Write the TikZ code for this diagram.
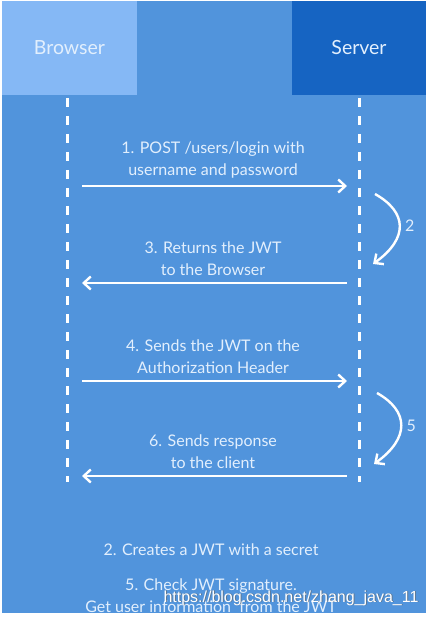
\documentclass[tikz,border=0pt]{standalone}
\usepackage{fontspec}
\setmainfont{Lato}
\newfontfamily\wmfont{Liberation Sans}
\usetikzlibrary{arrows.meta,positioning}
\definecolor{jwtBg}{RGB}{81,148,220}
\definecolor{jwtLight}{RGB}{133,184,245}
\definecolor{jwtDark}{RGB}{22,100,194}
\definecolor{jwtText}{RGB}{226,239,253}

\begin{document}
\begin{tikzpicture}[x=1pt, y=-1pt,
  hdrbox/.style={minimum height=94pt, inner sep=0pt, text=jwtText,
                 font=\fontsize{19.5}{22}\selectfont},
  lifeline/.style={white, line width=3pt, dash pattern=on 9pt off 9pt},
  arr/.style={white, line width=2.4pt, -{Straight Barb[length=7pt,width=13pt]}},
  tosrv/.style={arr, shorten <=15pt, shorten >=12pt},
  tobrw/.style={arr, shorten <=12pt, shorten >=15pt},
  lbl/.style={text=jwtText, font=\fontsize{16}{22}\selectfont, align=center},
]

\useasboundingbox (0,0) rectangle (428,617);
\fill[white] (0,0) rectangle (428,617);

\begin{scope}
\clip (2,1) rectangle (426,613);
\fill[jwtBg] (2,1) rectangle (426,613);

%% actors
\node[hdrbox, fill=jwtLight, minimum width=135pt] (browser) at (69.5,48) {Browser};
\node[hdrbox, fill=jwtDark, minimum width=134pt] (server) at (359,48) {Server};

%% lifelines
\coordinate (bTop) at (67,98);
\coordinate (bEnd) at (67,482);
\coordinate (sTop) at (359,98);
\coordinate (sEnd) at (359,482);
\draw[lifeline] (bTop) -- (bEnd);
\draw[lifeline] (sTop) -- (sEnd);

% message anchors on both lifelines
\foreach \i/\y in {1/186,3/283,4/381,6/476}{
  \coordinate (b\i) at (67,\y);
  \coordinate (s\i) at (359,\y);
}

%% messages
\draw[tosrv] (b1) -- (s1)
      node[lbl, midway, above=3pt] {1. POST /users/login with\\username and password};
\draw[tobrw] (s3) -- (b3)
      node[lbl, midway, above=3pt] {3. Returns the JWT\\to the Browser};
\draw[tosrv] (b4) -- (s4)
      node[lbl, midway, above=3pt] {4. Sends the JWT on the\\Authorization Header};
\draw[tobrw] (s6) -- (b6)
      node[lbl, midway, above=3pt] {6. Sends response\\to the client};

%% server-side steps
\coordinate (c2a) at (375,194);
\coordinate (c2b) at (373,264);
\draw[arr] (c2a) .. controls +(32,18) and +(36,-26) .. (c2b)
      node[lbl, midway, right=1pt] {2};
\coordinate (c5a) at (377,393);
\coordinate (c5b) at (374,464);
\draw[arr] (c5a) .. controls +(32,18) and +(36,-26) .. (c5b)
      node[lbl, midway, right=1pt] {5};

%% notes
\node[lbl] (note2) at (211,550) {2. Creates a JWT with a secret};
\node[lbl] (note5) at (211,596) {5. Check JWT signature.\\Get user information~~from the JWT};

% watermark
\node[font=\wmfont\fontsize{16}{16}\selectfont, text=black!60, opacity=0.6]
      (wmshadow) at (292,598.8) {https://blog.csdn.net/zhang\_java\_11};
\node[font=\wmfont\fontsize{16}{16}\selectfont, text=white]
      (wmark) at (291,598) {https://blog.csdn.net/zhang\_java\_11};
\end{scope}

\end{tikzpicture}
\end{document}
